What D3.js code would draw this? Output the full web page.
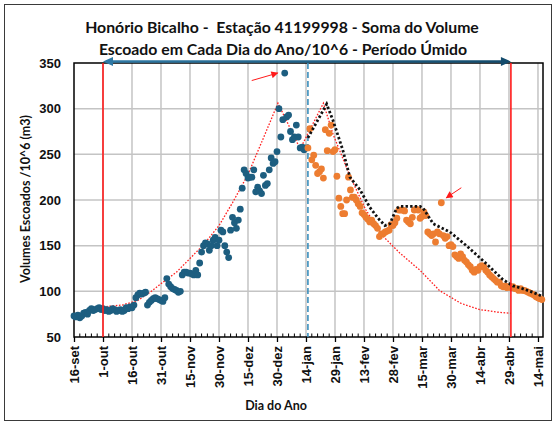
<!DOCTYPE html>
<html>
<head>
<meta charset="utf-8">
<script src="https://cdn.jsdelivr.net/npm/d3@7"></script>
<style>
  body { margin: 0; background: #fff; }
  svg { display: block; }
</style>
</head>
<body>
<svg id="chart" width="556" height="425"></svg>
<script>
// tick days (days counted from 16-set) and labels
var xTickDays = [0, 15, 30, 45, 60, 75, 90, 105, 120, 135, 150, 165, 180, 195, 210, 225, 240];
var xTickLabels = ["16-set", "1-out", "16-out", "31-out", "15-nov", "30-nov", "15-dez", "30-dez",
  "14-jan", "29-jan", "13-fev", "28-fev", "15-mar", "30-mar", "14-abr", "29-abr", "14-mai"];
var yTicks = [50, 100, 150, 200, 250, 300, 350];

// daily volumes, blue from day 0, orange from day 121
var blueStart = 0;
var blueVals = [73,72,74,71,73,76,77,75,79,81,79,80,81,82,80,81,
  79,80,78,79,81,80,78,79,80,78,79,82,81,83,82,85,
  93,96,98,97,98,99,85,88,90,92,93,92,91,90,89,93,
  114,108,105,103,102,101,99,100,118,121,121,120,120,119,118,123,118,
  131,143,150,153,152,145,150,156,159,150,156,167,165,150,143,137,167,181,175,169,178,190,
  213,233,229,224,225,225,233,209,214,210,207,227,216,218,233,246,240,242,253,300,
  269,288,339,291,293,275,266,269,282,269,257,258,255,257];
var orangeStart = 121;
var orangeVals = [257,278,244,249,238,229,231,234,224,277,254,273,282,253,255,226,202,193,185,185,200,225,211,203,203,200,
  196,193,186,184,181,179,176,178,174,172,169,160,163,163,165,166,167,173,172,175,180,189,189,189,
  188,178,176,174,181,189,190,189,180,182,187,183,165,163,161,163,154,165,163,197,161,158,160,150,151,149,
  140,138,136,141,138,134,132,129,127,123,121,124,123,127,128,127,123,121,118,116,114,112,110,110,106,105,
  106,104,105,104,105,103,103,101,103,101,101,100,99,98,97,96,94,93,92,91];

// red dotted envelope
var redDays = [15,25,33,40,46,53,60,67,75,82,90,98,105.5,117,129,134,143,151,160,168.5,179,189,200,210,220,226];
var redVals = [83,85,90,100,110,121,136,151,172,197,228,268,306,256,306,272,225,189,160,142,123,101,87,80,77,76];

// black dotted envelope
var blackDays = [121,130.7,134,139,142.7,148,153,157.3,160.8,163.4,166.9,168.6,179,180.6,185.8,194.4,203,213.4,221.8,227,230.6,237.3,241.8];
var blackVals = [268,305,287,255,225,211,192,180,172,174,191,193,193,191,174,165,150,130,113,106,104,99,95];

// markers
var periodStart = 15, periodEnd = 226, splitDay = 121;
var peakDay = 109, lateDay = 190;

var svg = d3.select("#chart");

var x = d3.scaleLinear().domain([0, 242.6]).range([74, 543]);
var y = d3.scaleLinear().domain([50, 350]).range([337, 63]);

// outer frame
svg.append("rect")
  .attr("x", 4.5).attr("y", 4.5)
  .attr("width", 547).attr("height", 416)
  .attr("fill", "#fff")
  .attr("stroke", "#3a3a3a")
  .attr("stroke-width", 1);

// title
var title = svg.append("text")
  .attr("text-anchor", "middle")
  .attr("font-family", "Lato, 'Open Sans', sans-serif")
  .attr("font-weight", "bold")
  .attr("font-size", 15.8)
  .attr("fill", "#111")
  .style("white-space", "pre");
title.append("tspan").attr("x", 282).attr("y", 33).text("Honório Bicalho -  Estação 41199998 - Soma do Volume");
title.append("tspan").attr("x", 283).attr("y", 55).text("Escoado em Cada Dia do Ano/10^6 - Período Úmido");

// grid
var grid = svg.append("g").attr("stroke", "#c4c4c4").attr("stroke-width", 1.5);
grid.selectAll(".hg")
  .data(yTicks.slice(1, -1))
  .enter().append("line")
    .attr("x1", x(0)).attr("x2", x.range()[1])
    .attr("y1", d => y(d)).attr("y2", d => y(d));
grid.selectAll(".vg")
  .data(xTickDays.slice(1))
  .enter().append("line")
    .attr("x1", d => x(d)).attr("x2", d => x(d))
    .attr("y1", y(350)).attr("y2", y(50));

// plot frame
svg.append("rect")
  .attr("x", x(0)).attr("y", y(350))
  .attr("width", x.range()[1] - x(0)).attr("height", y(50) - y(350))
  .attr("fill", "none")
  .attr("stroke", "#000")
  .attr("stroke-width", 1.5);

// split line (dashed blue)
svg.append("line")
  .attr("x1", x(splitDay)).attr("x2", x(splitDay))
  .attr("y1", y(350)).attr("y2", y(50))
  .attr("stroke", "#3b8fbd")
  .attr("stroke-width", 1.6)
  .attr("stroke-dasharray", "6,3");

// red dotted envelope
var line = d3.line().x(d => x(d[0])).y(d => y(d[1]));
svg.append("path")
  .datum(redDays.map((d, i) => [d, redVals[i]]))
  .attr("d", line)
  .attr("fill", "none")
  .attr("stroke", "#ff2020")
  .attr("stroke-width", 1.3)
  .attr("stroke-dasharray", "1.6,1.6");

// points
svg.append("g").selectAll("circle")
  .data(blueVals)
  .enter().append("circle")
    .attr("cx", (d, i) => x(blueStart + i))
    .attr("cy", d => y(d))
    .attr("r", 3.4)
    .attr("fill", "#1d5e80");

svg.append("g").selectAll("circle")
  .data(orangeVals)
  .enter().append("circle")
    .attr("cx", (d, i) => x(orangeStart + i))
    .attr("cy", d => y(d))
    .attr("r", 3.4)
    .attr("fill", "#ed7d31");

// black dotted envelope
svg.append("path")
  .datum(blackDays.map((d, i) => [d, blackVals[i]]))
  .attr("d", line)
  .attr("fill", "none")
  .attr("stroke", "#111")
  .attr("stroke-width", 2.8)
  .attr("stroke-dasharray", "2.4,2.2");

// period limits
svg.selectAll(".lim")
  .data([periodStart, periodEnd])
  .enter().append("line")
    .attr("x1", d => x(d)).attr("x2", d => x(d))
    .attr("y1", y(350)).attr("y2", y(50))
    .attr("stroke", "#ff1a1a")
    .attr("stroke-width", 1.6);

// double arrow on top
var defs = svg.append("defs");
var grad = defs.append("linearGradient").attr("id", "arrowGrad");
grad.append("stop").attr("offset", "0%").attr("stop-color", "#2f7aa6");
grad.append("stop").attr("offset", "100%").attr("stop-color", "#124a6b");
var ay = y(350) - 1.5;
var ax1 = x(periodStart), ax2 = x(periodEnd);
svg.append("path")
  .attr("d", `M${ax1},${ay}L${ax1 + 10},${ay - 4.5}L${ax1 + 10},${ay - 1.3}L${ax2 - 10},${ay - 1.3}L${ax2 - 10},${ay - 4.5}L${ax2},${ay}L${ax2 - 10},${ay + 4.5}L${ax2 - 10},${ay + 1.3}L${ax1 + 10},${ay + 1.3}L${ax1 + 10},${ay + 4.5}Z`)
  .attr("fill", "url(#arrowGrad)");

// small red arrows pointing to outliers
defs.append("marker")
  .attr("id", "redHead")
  .attr("viewBox", "0 0 10 10")
  .attr("refX", 9).attr("refY", 5)
  .attr("markerWidth", 8).attr("markerHeight", 7)
  .attr("markerUnits", "userSpaceOnUse")
  .attr("orient", "auto")
  .append("path").attr("d", "M0,0L10,5L0,10Z").attr("fill", "#ff1a1a");

var px = x(peakDay), py = y(blueVals[peakDay - blueStart]);
svg.append("line")
  .attr("x1", px - 33).attr("y1", py + 7.5)
  .attr("x2", px - 7).attr("y2", py)
  .attr("stroke", "#ff1a1a").attr("stroke-width", 1)
  .attr("marker-end", "url(#redHead)");
var lx = x(lateDay), ly = y(orangeVals[lateDay - orangeStart]);
svg.append("line")
  .attr("x1", lx + 20).attr("y1", ly - 15)
  .attr("x2", lx + 5).attr("y2", ly - 5)
  .attr("stroke", "#ff1a1a").attr("stroke-width", 1)
  .attr("marker-end", "url(#redHead)");

// x axis
var minorDays = d3.range(0, 243, 3).filter(d => d % 15 !== 0);
svg.append("g").selectAll("line")
  .data(minorDays)
  .enter().append("line")
    .attr("x1", d => x(d)).attr("x2", d => x(d))
    .attr("y1", y(50)).attr("y2", y(50) - 3.5)
    .attr("stroke", "#000").attr("stroke-width", 1);

var xAxis = svg.append("g")
  .attr("transform", `translate(0,${y(50)})`)
  .call(d3.axisBottom(x)
    .tickValues(xTickDays)
    .tickFormat((d, i) => xTickLabels[i])
    .tickSize(5)
    .tickPadding(4));
xAxis.select(".domain").remove();
xAxis.selectAll(".tick line").attr("stroke", "#000").attr("stroke-width", 1.3);
xAxis.selectAll("text")
  .attr("font-family", "'Liberation Sans', Arial, sans-serif")
  .attr("font-weight", "bold")
  .attr("font-size", 13)
  .attr("fill", "#111")
  .attr("transform", "rotate(-90)")
  .attr("text-anchor", "end")
  .attr("x", -9)
  .attr("y", 0)
  .attr("dy", "0.35em");

// y axis
var yAxis = svg.append("g")
  .attr("transform", `translate(${x(0)},0)`)
  .call(d3.axisLeft(y).tickValues(yTicks).tickSize(0).tickPadding(13));
yAxis.select(".domain").remove();
yAxis.selectAll("text")
  .attr("font-family", "'Liberation Sans', Arial, sans-serif")
  .attr("font-weight", "bold")
  .attr("font-size", 13)
  .attr("fill", "#111");

// axis titles
svg.append("text")
  .attr("x", 276).attr("y", 410)
  .attr("text-anchor", "middle")
  .attr("font-family", "Lato, 'Open Sans', sans-serif")
  .attr("font-weight", "bold")
  .attr("font-size", 12.5)
  .attr("fill", "#111")
  .text("Dia do Ano");

svg.append("text")
  .attr("transform", "translate(30,199) rotate(-90)")
  .attr("text-anchor", "middle")
  .attr("font-family", "Lato, 'Open Sans', sans-serif")
  .attr("font-weight", "bold")
  .attr("font-size", 12.5)
  .attr("fill", "#111")
  .text("Volumes Escoados /10^6 (m3)");
</script>
</body>
</html>
